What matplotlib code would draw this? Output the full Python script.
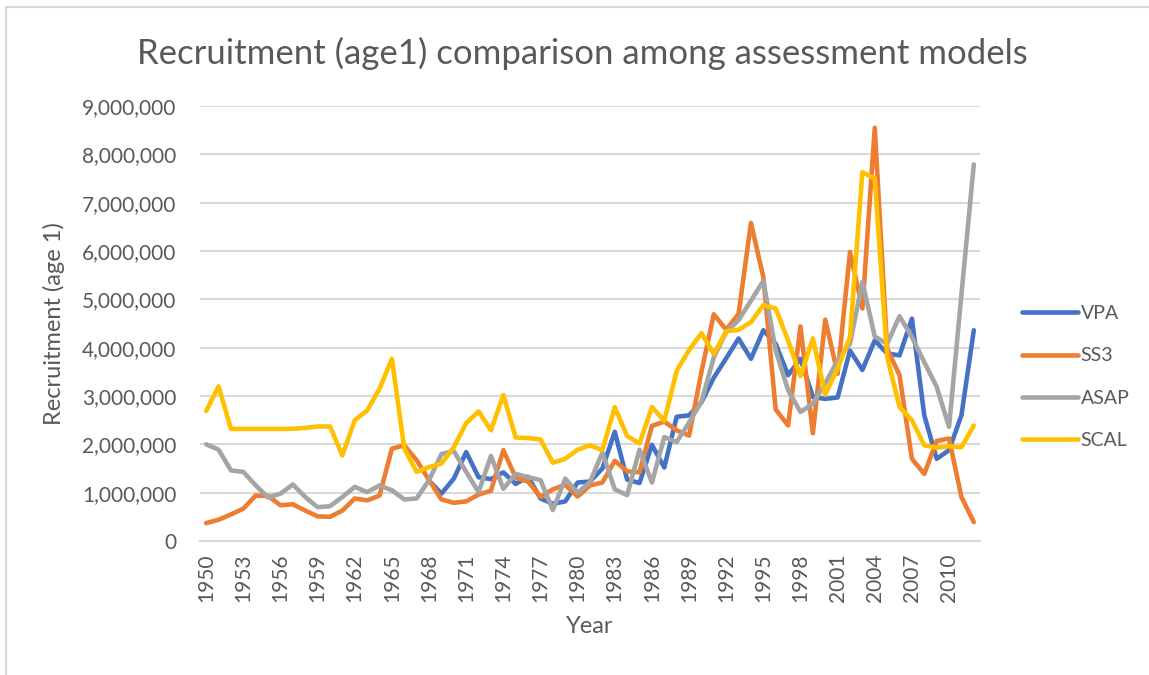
import numpy as np
import matplotlib
matplotlib.use("Agg")
import matplotlib.pyplot as plt
from matplotlib.lines import Line2D
from matplotlib.ticker import FuncFormatter

plt.rcParams['font.family'] = ['Lato', 'DejaVu Sans']

nan = np.nan
years = list(range(1950, 2013))

# recruitment at age 1, millions of fish
vpa = [nan] * 18 + [
    1.25, 0.98, 1.29, 1.84, 1.32, 1.28, 1.42, 1.18, 1.33, 0.88,
    0.77, 0.82, 1.21, 1.23, 1.50, 2.26, 1.27, 1.20, 1.99, 1.52,
    2.57, 2.60, 2.87, 3.38, 3.78, 4.19, 3.77, 4.36, 4.08, 3.43,
    3.77, 2.98, 2.94, 2.97, 3.94, 3.54, 4.15, 3.88, 3.84, 4.60,
    2.60, 1.70, 1.88, 2.60, 4.36]
ss3 = [
    0.37, 0.44, 0.55, 0.67, 0.94, 0.93, 0.74, 0.76, 0.63, 0.51,
    0.50, 0.63, 0.88, 0.84, 0.94, 1.91, 1.98, 1.67, 1.26, 0.86,
    0.79, 0.82, 0.96, 1.04, 1.88, 1.31, 1.23, 0.91, 1.07, 1.16,
    0.92, 1.15, 1.21, 1.66, 1.44, 1.42, 2.38, 2.47, 2.29, 2.18,
    3.50, 4.69, 4.37, 4.70, 6.58, 5.46, 2.72, 2.39, 4.44, 2.23,
    4.58, 3.46, 5.98, 4.81, 8.55, 3.98, 3.43, 1.70, 1.39, 2.07,
    2.12, 0.91, 0.39]
asap = [
    2.00, 1.89, 1.46, 1.43, 1.15, 0.90, 0.98, 1.17, 0.91, 0.70,
    0.72, 0.91, 1.12, 1.01, 1.15, 1.05, 0.86, 0.88, 1.26, 1.80,
    1.86, 1.43, 1.01, 1.76, 1.08, 1.39, 1.32, 1.26, 0.64, 1.29,
    1.00, 1.22, 1.83, 1.07, 0.95, 1.89, 1.21, 2.15, 2.05, 2.45,
    2.88, 3.80, 4.32, 4.57, 4.97, 5.38, 3.94, 3.12, 2.67, 2.84,
    3.26, 3.74, 4.08, 5.36, 4.23, 4.08, 4.65, 4.22, 3.70, 3.19,
    2.36, 5.10, 7.79]
scal = [
    2.69, 3.20, 2.32, 2.32, 2.32, 2.32, 2.32, 2.32, 2.34, 2.37,
    2.37, 1.77, 2.50, 2.70, 3.15, 3.77, 1.91, 1.43, 1.53, 1.60,
    1.94, 2.44, 2.68, 2.29, 3.02, 2.14, 2.13, 2.10, 1.62, 1.70,
    1.89, 1.98, 1.88, 2.77, 2.17, 2.02, 2.77, 2.49, 3.52, 3.95,
    4.30, 3.87, 4.34, 4.37, 4.53, 4.88, 4.81, 4.15, 3.41, 4.19,
    3.03, 3.57, 4.22, 7.63, 7.50, 3.81, 2.77, 2.50, 1.98, 1.93,
    1.96, 1.94, 2.39]

series = ["VPA", "SS3", "ASAP", "SCAL"]
values = [vpa, ss3, asap, scal]
colors = ["#4472C4", "#ED7D31", "#A5A5A5", "#FFC000"]

txt = "#595959"
grid = "#D9D9D9"

fig = plt.figure(figsize=(11.49, 6.75), dpi=100)
ax = fig.add_axes([200 / 1149, 1 - 541 / 675, 780 / 1149, 435 / 675])

for name, vals, c in zip(series, values, colors):
    ax.plot(years, np.array(vals) * 1e6, color=c, lw=3.3, label=name,
            solid_joinstyle='round', solid_capstyle='round')

ax.set_xlim(1949.5, 2012.5)
ax.set_ylim(0, 9e6)
ax.set_yticks(np.arange(0, 9.5e6, 1e6))
ax.yaxis.set_major_formatter(FuncFormatter(lambda v, p: f"{int(v):,}"))
ax.set_xticks(range(1950, 2013, 3))
ax.set_xticklabels([str(y) for y in range(1950, 2013, 3)], rotation=90)
ax.tick_params(axis='both', length=0, labelsize=15, colors=txt)
ax.tick_params(axis='y', pad=17)
ax.tick_params(axis='x', pad=9)
ax.grid(axis='y', color=grid, lw=1.5)
ax.set_axisbelow(True)
for s in ['top', 'right', 'left']:
    ax.spines[s].set_visible(False)
ax.spines['bottom'].set_color(grid)
ax.spines['bottom'].set_linewidth(1.5)

ax.set_ylabel("Recruitment (age 1)", fontsize=17, color=txt, labelpad=12)
ax.set_xlabel("Year", fontsize=17, color=txt, labelpad=10)

fig.text(582 / 1149, 1 - 53 / 675, "Recruitment (age1) comparison among assessment models",
         ha='center', va='center', fontsize=25, color=txt)

leg = ax.legend(loc='center left', bbox_to_anchor=(1004 / 1149, 1 - 377 / 675),
                bbox_transform=fig.transFigure, frameon=False, fontsize=14,
                handlelength=2.9, handletextpad=0.15, labelspacing=1.3,
                labelcolor=txt)

# chart area border (cut off on the right and bottom)
fig.add_artist(Line2D([6 / 1149, 1], [1 - 7 / 675] * 2, color=grid, lw=1.5,
                      transform=fig.transFigure))
fig.add_artist(Line2D([6 / 1149] * 2, [0, 1 - 7 / 675], color=grid, lw=1.5,
                      transform=fig.transFigure))

fig.savefig("out.png", dpi=100)
